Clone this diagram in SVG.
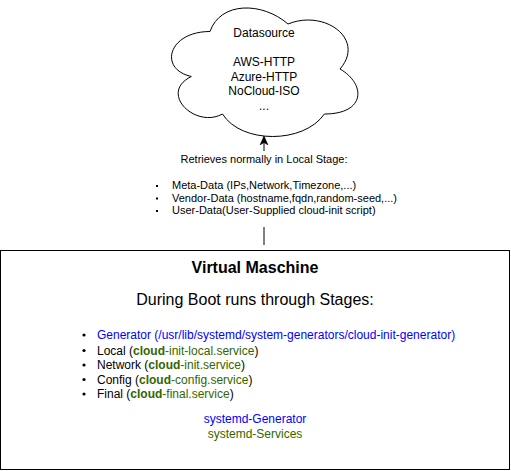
<svg xmlns="http://www.w3.org/2000/svg" width="511" height="471" viewBox="0 0 511 471">
<defs>
<style>
text{font-family:"Liberation Sans",Arial,Helvetica,sans-serif;fill:#000}
.shape{fill:#fff;stroke:#000;stroke-width:1}
.c{text-anchor:middle}
.f12{font-size:12px}
.f11{font-size:11px}
.blue{fill:#0000FF}
.green{fill:#336600}
.b{font-weight:bold}
.edge{fill:none;stroke:#000;stroke-width:1}
</style>
<marker id="arrow" markerWidth="10" markerHeight="10" viewBox="0 0 10 10" refX="9" refY="5" orient="auto" markerUnits="userSpaceOnUse">
<path d="M0,1 L9,5 L0,9 L2.5,5 Z" fill="#000" stroke="#000" stroke-width="0.5"/>
</marker>
</defs>
<rect width="511" height="471" fill="#fff"/>
<g id="connectors">
<path class="edge" d="M264,151 L264,136" marker-end="url(#arrow)"/>
<path class="edge" d="M264,227 L264,245"/>
</g>
<g id="datasource">
<path class="shape" d="M210,31.5 C168.4,31.5 158,69 191.3,76.5 C158,93 195.4,129 222.5,114 C241.2,144 303.6,144 324.4,114 C366,114 366,84 340,69 C366,39 324.4,9 288,24 C262,1.5 220.4,1.5 210,31.5 Z"/>
<text class="c f12" x="264" y="37">Datasource</text>
<text class="c f12" x="264" y="66">AWS-HTTP</text>
<text class="c f12" x="264" y="80.5">Azure-HTTP</text>
<text class="c f12" x="264" y="95">NoCloud-ISO</text>
<text class="c f12" x="264" y="109.5">...</text>
</g>
<g id="retrieval">
<text class="c f11" x="264" y="163">Retrieves normally in Local Stage:</text>
<rect x="156" y="185" width="2" height="2"/>
<rect x="156" y="197.5" width="2" height="2"/>
<rect x="156" y="210" width="2" height="2"/>
<text class="f11" x="172" y="189">Meta-Data (IPs,Network,Timezone,...)</text>
<text class="f11" x="172" y="201.5">Vendor-Data (hostname,fqdn,random-seed,...)</text>
<text class="f11" x="172" y="214">User-Data(User-Supplied cloud-init script)</text>
</g>
<g id="vm">
<rect class="shape" x="0.5" y="250.5" width="509" height="219"/>
<text class="c b" x="255" y="273" style="font-size:16px">Virtual Maschine</text>
<text class="c" x="255" y="305" style="font-size:16px">During Boot runs through Stages:</text>
<circle cx="84" cy="335" r="1.6"/>
<circle cx="84" cy="350.5" r="1.6"/>
<circle cx="84" cy="365" r="1.6"/>
<circle cx="84" cy="379.5" r="1.6"/>
<circle cx="84" cy="394" r="1.6"/>
<text class="f12 blue" x="97" y="339">Generator (/usr/lib/systemd/system-generators/cloud-init-generator)</text>
<text class="f12" x="97" y="354.5">Local (<tspan class="green b">cloud</tspan><tspan class="green">-init-local.service</tspan>)</text>
<text class="f12" x="97" y="369">Network (<tspan class="green b">cloud</tspan><tspan class="green">-init.service</tspan>)</text>
<text class="f12" x="97" y="383.5">Config (<tspan class="green b">cloud</tspan><tspan class="green">-config.service</tspan>)</text>
<text class="f12" x="97" y="398">Final (<tspan class="green b">cloud</tspan><tspan class="green">-final.service</tspan>)</text>
<text class="c f12 blue" x="255" y="423">systemd-Generator</text>
<text class="c f12 green" x="255" y="438">systemd-Services</text>
</g>
</svg>
